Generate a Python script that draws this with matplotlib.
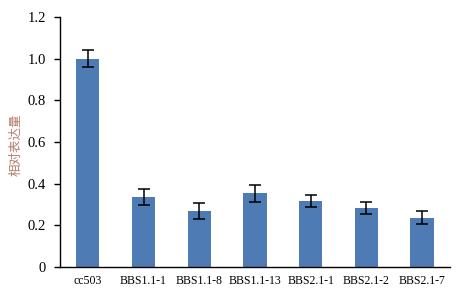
import numpy as np
import matplotlib.pyplot as plt

# sample names, relative expression and error
samples = ['cc503', 'BBS1.1-1', 'BBS1.1-8', 'BBS1.1-13', 'BBS2.1-1', 'BBS2.1-2', 'BBS2.1-7']
expression = [1.0, 0.335, 0.270, 0.353, 0.316, 0.283, 0.236]
errors = [0.043, 0.038, 0.038, 0.040, 0.030, 0.027, 0.031]
yticks = [0, 0.2, 0.4, 0.6, 0.8, 1.0, 1.2]
ytick_labels = ['0', '0.2', '0.4', '0.6', '0.8', '1.0', '1.2']

plt.rcParams['font.family'] = ['Liberation Serif', 'Noto Sans CJK SC']

fig = plt.figure(figsize=(4.61, 2.90), dpi=100)
ax = fig.add_axes([0.130, 0.079, 0.846, 0.863])

x = np.arange(len(samples))
ax.bar(x, expression, width=0.42, color='#4F7BB4', zorder=2)
ax.errorbar(x, expression, yerr=errors, fmt='none', ecolor='black',
            elinewidth=1.1, capsize=4, capthick=1.1, zorder=3)

ax.set_xlim(-0.5, len(samples) - 0.5)
ax.set_ylim(0, 1.2)
ax.set_yticks(yticks)
ax.set_yticklabels(ytick_labels, fontsize=10.5)
ax.set_xticks(x)
ax.set_xticklabels(samples, fontsize=8.5)
ax.tick_params(axis='x', length=0, pad=6)
ax.tick_params(axis='y', length=4, width=1, direction='out', pad=6)

for side in ['top', 'right']:
    ax.spines[side].set_visible(False)
ax.spines['left'].set_linewidth(1)
ax.spines['bottom'].set_linewidth(1)

ax.set_ylabel('相对表达量', fontsize=9, color='#B47C6C',
              family=['Noto Sans CJK SC'])
ax.yaxis.set_label_coords(-0.097, 0.49)

fig.savefig('out.png', dpi=100)
